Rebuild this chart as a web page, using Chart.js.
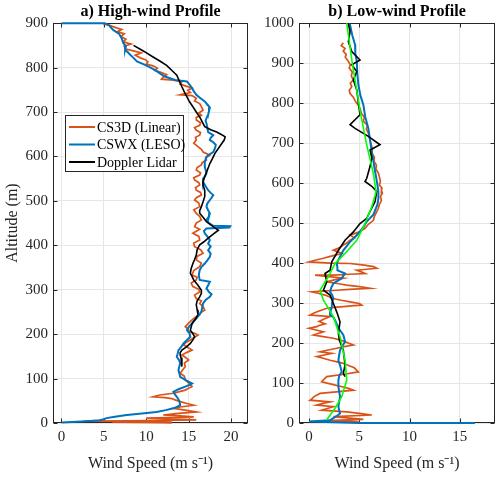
<!DOCTYPE html>
<html>
<head>
<meta charset="utf-8">
<script src="https://cdn.jsdelivr.net/npm/chart.js@4.4.1/dist/chart.umd.min.js"></script>
<style>
  html, body { margin: 0; padding: 0; background: #fff; }
  #wrap { position: relative; width: 500px; height: 479px; overflow: hidden; }
  canvas { position: absolute; top: 0; }
</style>
</head>
<body>
<div id="wrap">
  <canvas id="chart-a" width="250" height="479" style="left:0"></canvas>
  <canvas id="chart-b" width="250" height="479" style="left:250px"></canvas>
</div>
<script>
// ---- Panel a) High-wind profile ----
const altCs3dA = [899,895,890,886,881,876,870,864,858,853,
  848,842,837,833,828,822,818,813,808,804,
  799,794,789,784,779,774,772,768,763,759,
  754,749,744,739,737,731,725,719,712,704,
  698,693,688,682,676,670,665,659,654,648,
  643,637,630,622,616,610,603,597,592,586,
  581,575,569,563,558,552,547,541,536,530,
  524,519,513,507,502,495,487,480,472,465,
  457,450,442,436,427,420,412,405,397,390,
  382,375,367,360,352,343,333,328,322,315,
  307,301,295,288,280,275,269,262,254,249,
  244,238,232,225,217,212,206,202,198,192,
  187,182,176,170,164,159,153,148,142,135,
  127,120,112,105,97,90,82,78,74,70,
  67,63,59,57,55,52,48,44,40,36,
  33,29,25,21,18,16,14,12,11,9,
  7,5,4,3,2,1,0];
const spdCs3dA = [4.9,5.7,6.4,7.1,6.6,7.4,7.0,7.6,7.3,8.2,
  7.4,7.6,8.6,9.4,8.7,9.3,9.9,10.2,10.0,10.8,
  11.3,11.0,11.8,12.4,12.0,11.8,13.2,14.2,14.0,14.6,
  15.4,14.9,15.2,14.0,15.4,15.9,15.7,16.3,16.5,16.7,
  16.2,16.5,15.9,15.9,16.4,16.3,15.7,15.9,16.4,16.3,
  15.8,15.9,15.6,16.1,16.5,16.7,17.5,17.0,17.1,16.6,
  16.5,16.0,15.9,16.4,16.3,15.6,15.7,16.2,16.3,15.8,
  15.9,16.4,16.5,15.9,15.7,16.2,16.3,15.6,15.9,16.3,
  16.5,15.9,15.7,16.3,15.5,16.2,16.3,15.6,15.7,16.4,
  16.7,16.0,15.9,16.5,16.3,15.6,15.4,16.0,15.9,15.3,
  15.5,16.2,16.3,15.7,15.9,16.5,16.3,16.7,16.9,16.4,
  16.3,15.8,15.4,15.0,14.6,14.9,15.0,15.7,16.1,15.6,
  15.2,14.7,14.4,14.9,15.4,14.8,14.2,14.6,15.0,14.5,
  14.6,14.3,14.0,14.5,14.6,15.0,15.4,15.0,14.6,13.8,
  13.2,11.6,10.8,12.2,13.0,13.4,14.0,14.8,15.6,14.0,
  13.2,14.6,15.9,13.5,12.0,14.0,15.6,12.5,10.0,13.5,
  15.9,8.0,2.6,13.0,6.0,12.0,13.0];

const altCswxA = [900,900,895,885,876,866,855,848,840,835,
  829,822,814,806,800,795,787,780,772,769,
  762,754,747,739,731,724,717,710,702,694,
  686,680,675,665,655,648,642,637,632,626,
  618,610,604,599,588,577,570,562,552,543,
  533,524,518,513,507,502,494,487,479,472,
  465,457,450,444,443,440,438,432,427,420,
  412,404,397,389,381,374,366,359,351,344,
  333,322,318,310,303,295,290,284,277,269,
  260,250,242,235,229,224,216,209,202,194,
  187,179,171,164,156,149,141,134,127,119,
  112,104,96,89,85,82,76,70,64,59,
  50,40,36,33,29,25,21,18,14,11,
  8,6,4,2,1];
const spdCswxA = [0,5.1,5.6,6.1,6.8,7.1,7.3,7.6,7.5,7.8,
  8.1,8.5,8.9,9.85,10.5,11.0,11.6,12.2,13.4,14.8,
  15.1,15.4,15.6,15.9,16.4,16.9,17.2,17.5,17.4,17.3,
  17.1,17.0,17.1,17.2,17.3,17.9,17.6,17.5,17.9,18.2,
  18.1,17.9,17.4,17.1,16.9,16.9,17.0,17.1,16.8,16.7,
  17.0,17.3,17.6,17.9,17.7,17.5,17.2,17.1,17.3,17.5,
  17.4,17.1,17.4,17.9,19.9,19.8,17.1,16.8,16.9,17.2,
  17.5,17.3,17.6,17.3,17.6,17.5,17.2,16.9,16.5,16.3,
  16.2,16.3,17.5,17.3,17.1,17.4,17.7,17.5,17.0,16.7,
  16.6,16.5,16.2,15.9,15.6,15.4,15.0,14.8,15.1,15.2,
  14.8,14.4,14.1,13.8,13.7,13.6,13.9,14.0,13.9,13.8,
  13.9,14.0,14.7,15.4,15.0,14.6,13.8,13.2,13.4,13.6,
  13.9,14.0,13.6,13.2,12.3,11.2,9.2,7.7,6.3,5.3,
  4.9,4.5,3.0,1.2,0];

const altLidarA = [850,837,824,815,805,794,783,770,757,745,
  734,723,712,700,689,678,667,660,655,649,
  644,637,629,618,607,595,584,569,554,545,
  536,523,510,498,487,478,472,463,453,443,
  434,425,416,408,401,390,378,368,359,348,
  337,330,322,310,299,292,284,275,266,255,
  244,234,224,216,209,201,194,187,179,171,
  164,158,153,147,142,135,127];
const spdLidarA = [8.5,9.7,10.8,11.6,12.4,13.0,13.6,13.9,14.2,14.5,
  14.8,15.1,15.5,15.9,16.3,16.6,16.9,17.6,18.3,18.9,
  19.3,19.2,18.9,18.5,18.1,17.8,17.5,17.2,16.9,16.7,
  16.7,16.9,16.9,16.7,16.5,16.3,16.3,16.7,17.1,17.8,
  18.5,17.9,17.3,16.8,16.3,16.0,15.9,15.7,15.5,15.3,
  15.2,15.4,15.6,16.1,16.5,16.5,16.3,16.0,15.9,16.0,
  16.1,15.8,15.4,15.3,15.2,15.5,15.7,15.5,15.2,14.7,
  14.2,14.0,14.0,14.1,14.2,14.2,14.2];

// ---- Panel b) Low-wind profile ----
const altCs3dB = [951,944,937,930,922,915,905,896,888,878,
  868,858,850,841,832,824,815,805,795,785,
  775,765,755,745,735,725,715,705,695,685,
  675,665,655,645,635,625,615,605,595,588,
  582,575,567,557,547,537,527,517,507,497,
  487,478,470,463,457,451,445,438,432,428,
  424,418,412,407,403,400,399,395,391,387,
  384,382,378,374,372,370,370,366,362,358,
  353,349,345,341,337,334,332,330,328,324,
  320,316,312,307,303,299,295,293,291,289,
  287,280,275,270,268,266,260,254,248,244,
  241,237,232,228,224,220,216,212,206,200,
  195,191,187,182,178,174,170,166,162,157,
  153,149,143,138,133,128,122,116,110,103,
  96,90,86,82,78,74,66,61,57,53,
  49,45,41,37,32,28,24,20,16,13,
  9,6,3,0];
const spdCs3dB = [3.41,3.2,3.58,3.4,3.7,3.6,3.9,4.1,4.0,4.3,
  4.2,4.4,4.1,4.25,4.0,4.08,4.4,4.6,4.9,5.1,
  5.2,5.5,5.4,5.8,5.7,5.9,6.0,6.1,6.2,6.3,
  6.25,6.5,6.45,6.7,6.65,6.9,7.0,7.1,7.0,7.25,
  7.2,7.3,7.1,7.2,7.0,6.9,6.7,6.5,6.4,5.9,
  5.57,5.0,4.08,4.5,4.08,3.8,3.41,3.0,2.42,2.9,
  3.25,2.3,1.43,0.6,0.0,2.09,4.08,5.5,6.4,6.73,
  5.5,4.75,5.2,5.57,4.0,2.42,0.6,2.0,3.41,2.5,
  1.76,2.8,3.75,5.0,6.07,4.0,2.75,1.2,0.27,1.0,
  1.59,2.0,2.26,3.2,4.08,5.0,5.24,4.2,3.41,2.5,
  1.76,1.0,0.5,0.1,1.2,2.09,1.5,1.0,1.6,1.0,
  0.77,0.0,0.8,1.43,0.9,0.43,1.4,2.42,3.3,3.9,
  4.41,3.5,2.75,1.8,1.09,2.26,1.5,0.77,1.4,2.09,
  2.8,3.41,4.0,4.5,4.7,4.91,3.5,1.76,1.5,1.26,
  2.4,3.4,4.0,4.41,2.7,1.09,0.5,0.3,0.1,2.09,
  1.4,0.77,2.42,1.9,1.26,3.75,5.0,6.24,2.42,3.8,
  5.4,1.76,4.8,5.2];

const altCswxB = [999,996,970,946,925,904,875,846,820,796,
  765,737,710,679,655,629,604,579,562,546,
  521,504,490,474,453,432,416,399,390,382,
  378,374,368,362,355,349,338,328,320,312,
  302,291,280,270,265,257,245,232,220,212,
  203,192,182,170,157,143,128,118,107,91,
  78,66,53,41,32,24,18,12,7,4,
  0,0];
const spdCswxB = [3.9,4.08,4.3,4.58,4.6,4.75,4.8,4.91,5.1,5.4,
  5.6,5.9,6.05,6.24,6.4,6.57,6.75,6.9,6.9,6.8,
  6.4,5.74,5.4,4.91,4.08,3.41,3.08,2.75,2.82,2.82,
  3.2,3.58,3.4,3.25,2.8,2.42,2.2,2.09,2.3,2.42,
  2.3,2.26,2.15,2.09,2.4,2.59,2.8,3.08,3.41,3.5,
  3.58,3.3,3.08,3.0,2.92,3.1,3.25,3.0,2.92,2.92,
  3.0,3.08,3.0,2.92,3.0,3.08,2.8,2.42,2.1,0,
  5,16.5];

const altLidarB = [1000,979,954,929,908,896,879,858,833,800,
  771,746,737,717,696,683,663,642,612,604,
  592,579,554,529,512,499,478,457,432,403,
  382,374,353,332,320,299,278,266,253,224,
  207,182,145,124,116];
const spdLidarB = [3.9,4.08,3.91,4.25,5.07,4.25,4.75,4.41,4.75,4.91,
  5.07,4.08,4.58,5.9,7.06,6.07,6.24,6.07,5.74,5.57,
  6.24,6.73,6.57,6.07,5.74,5.07,4.41,3.58,2.92,2.26,
  2.09,1.59,1.76,1.43,2.09,2.42,2.75,2.92,3.08,2.92,
  3.02,3.41,3.58,3.41,3.58];

const altSondeB = [1000,900,782,700,624,578,541,499,457,424,399,366,332,307,266,216,157,107,66,37,8];
const spdSondeB = [3.75,4.3,5.07,5.7,6.4,6.67,6.24,5.57,4.75,3.58,2.59,1.92,1.09,1.43,2.42,3.08,3.58,3.75,3.25,2.59,1.76];

// axis ticks
const xTicksA = [0, 5, 10, 15, 20];
const yTicksA = [0, 100, 200, 300, 400, 500, 600, 700, 800, 900];
const xTicksB = [0, 5, 10, 15];
const yTicksB = [0, 100, 200, 300, 400, 500, 600, 700, 800, 900, 1000];

const SERIF = "'Liberation Serif', 'Times New Roman', serif";
const ORANGE = '#D95319';
const BLUE = '#0072BD';
const BLACK = '#000000';
const GREEN = '#00FF00';

/**
 * Zip altitude / speed arrays into {x, y} points (x = speed, y = altitude)
 */
function toPoints(alts, speeds) {
    return alts.map((a, i) => ({ x: speeds[i], y: a }));
}

function line(label, alts, speeds, color, width, order) {
    return {
        label: label,
        data: toPoints(alts, speeds),
        borderColor: color,
        backgroundColor: color,
        borderWidth: width,
        showLine: true,
        pointRadius: 0,
        tension: 0,
        clip: 2,
        order: order
    };
}

/**
 * MATLAB style axes box and inward ticks (under the lines),
 * boxed legend on top of everything
 */
const matlabBox = {
    id: 'matlabBox',
    beforeDatasetsDraw(chart) {
        const { ctx, chartArea: a, scales } = chart;
        const L = Math.round(a.left) + 0.5, R = Math.round(a.right) - 0.5;
        const T = Math.round(a.top) + 0.5, B = Math.round(a.bottom) - 0.5;
        ctx.save();
        ctx.strokeStyle = '#262626';
        ctx.lineWidth = 1;
        ctx.strokeRect(L, T, R - L, B - T);

        const len = 4;
        ctx.beginPath();
        scales.x.ticks.forEach(t => {
            const px = Math.round(scales.x.getPixelForValue(t.value)) + 0.5;
            ctx.moveTo(px, B); ctx.lineTo(px, B - len);
            ctx.moveTo(px, T); ctx.lineTo(px, T + len);
        });
        scales.y.ticks.forEach(t => {
            const py = Math.round(scales.y.getPixelForValue(t.value)) + 0.5;
            ctx.moveTo(L, py); ctx.lineTo(L + len, py);
            ctx.moveTo(R, py); ctx.lineTo(R - len, py);
        });
        ctx.stroke();
        ctx.restore();
    },
    afterDatasetsDraw(chart, args, opts) {
        const lg = opts.legend;
        if (!lg) return;
        const ctx = chart.ctx;
        const sets = chart.data.datasets;
        const h = lg.firstRow + lg.rowGap * (sets.length - 1) + lg.lastPad;
        ctx.save();
        ctx.fillStyle = '#ffffff';
        ctx.fillRect(lg.x, lg.y, lg.w, h);
        ctx.strokeStyle = '#262626';
        ctx.lineWidth = 1;
        ctx.strokeRect(lg.x + 0.5, lg.y + 0.5, lg.w, h);
        ctx.font = '14px ' + SERIF;
        ctx.textBaseline = 'middle';
        ctx.textAlign = 'left';
        sets.forEach((ds, i) => {
            const cy = lg.y + lg.firstRow + i * lg.rowGap;
            ctx.strokeStyle = ds.borderColor;
            ctx.lineWidth = 2;
            ctx.beginPath();
            ctx.moveTo(lg.x + 4, cy);
            ctx.lineTo(lg.x + 4 + lg.sample, cy);
            ctx.stroke();
            ctx.fillStyle = '#000000';
            ctx.fillText(ds.label, lg.x + 6 + lg.sample, cy + 1);
        });
        ctx.restore();
    }
};

function buildChart(canvasId, cfg) {
    const ctx = document.getElementById(canvasId).getContext('2d');
    return new Chart(ctx, {
        type: 'scatter',
        data: { datasets: cfg.datasets },
        options: {
            responsive: false,
            animation: false,
            layout: { padding: { left: 0, right: cfg.padRight, top: 0, bottom: 0 } },
            plugins: {
                legend: { display: false },
                tooltip: { enabled: false },
                title: {
                    display: true,
                    text: cfg.title,
                    fullSize: false,
                    color: '#000000',
                    font: { family: SERIF, size: 16, weight: 'bold' },
                    padding: { top: 2, bottom: 2 }
                },
                matlabBox: { legend: cfg.legend }
            },
            scales: {
                x: {
                    type: 'linear',
                    min: cfg.xMin,
                    max: cfg.xMax,
                    afterBuildTicks: (scale) => { scale.ticks = cfg.xTicks.map(v => ({ value: v })); },
                    afterFit: (scale) => { scale.height = 56; },
                    ticks: {
                        color: '#262626',
                        font: { family: SERIF, size: 15 },
                        padding: 5,
                        maxRotation: 0,
                        callback: (v) => String(v)
                    },
                    grid: { color: '#e6e6e6', drawTicks: false },
                    border: { display: false },
                    title: {
                        display: true,
                        text: 'Wind Speed (m s\u207B\u00B9)',
                        color: '#262626',
                        font: { family: SERIF, size: 16 },
                        padding: { top: 0, bottom: 6 }
                    }
                },
                y: {
                    type: 'linear',
                    min: cfg.yMin,
                    max: cfg.yMax,
                    afterBuildTicks: (scale) => { scale.ticks = cfg.yTicks.map(v => ({ value: v })); },
                    afterFit: (scale) => { scale.width = cfg.yWidth; },
                    ticks: {
                        color: '#262626',
                        font: { family: SERIF, size: 15 },
                        padding: 5,
                        callback: (v) => String(v)
                    },
                    grid: { color: '#e6e6e6', drawTicks: false },
                    border: { display: false },
                    title: {
                        display: !!cfg.yTitle,
                        text: cfg.yTitle || '',
                        color: '#262626',
                        font: { family: SERIF, size: 16 },
                        padding: { top: 3, bottom: 0 }
                    }
                }
            }
        },
        plugins: [matlabBox]
    });
}

buildChart('chart-a', {
    title: 'a) High-wind Profile',
    yTitle: 'Altitude (m)',
    xMin: -1, xMax: 22, yMin: 0, yMax: 900,
    xTicks: xTicksA, yTicks: yTicksA,
    yWidth: 53, padRight: 2,
    legend: { x: 65, y: 115, w: 118, firstRow: 12, rowGap: 17.5, lastPad: 9, sample: 26 },
    datasets: [
        line('CS3D (Linear)', altCs3dA, spdCs3dA, ORANGE, 1.7, 3),
        line('CSWX (LESO)', altCswxA, spdCswxA, BLUE, 2, 2),
        line('Doppler Lidar', altLidarA, spdLidarA, BLACK, 1.6, 1)
    ]
});

buildChart('chart-b', {
    title: 'b) Low-wind Profile',
    yTitle: '',
    xMin: -1, xMax: 18.5, yMin: 0, yMax: 1000,
    xTicks: xTicksB, yTicks: yTicksB,
    yWidth: 49, padRight: 5,
    legend: { x: 369, y: 31, w: 120, firstRow: 11, rowGap: 17, lastPad: 10, sample: 27 },
    datasets: [
        line('CS3D (Linear)', altCs3dB, spdCs3dB, ORANGE, 1.7, 3),
        line('CSWX (LESO)', altCswxB, spdCswxB, BLUE, 2, 2),
        line('Doppler Lidar', altLidarB, spdLidarB, BLACK, 1.6, 1),
        line('RadioSonde', altSondeB, spdSondeB, GREEN, 1.6, 0)
    ]
});
</script>
</body>
</html>
